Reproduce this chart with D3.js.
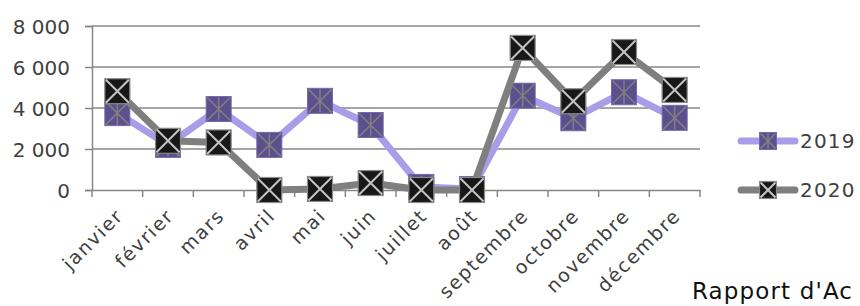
<!DOCTYPE html>
<html><head><meta charset="utf-8">
<script src="https://cdn.jsdelivr.net/npm/d3@7"></script>
<style>
body{margin:0;background:#fff;overflow:hidden}
svg{display:block;font-family:"DejaVu Sans",sans-serif}
</style></head><body>
<svg id="c" width="860" height="306"></svg>
<script>
const months = ["janvier","février","mars","avril","mai","juin","juillet","août","septembre","octobre","novembre","décembre"];
const values2019 = [3750,2200,3950,2200,4350,3170,150,50,4600,3500,4770,3520];
const values2020 = [4820,2400,2320,0,50,340,0,0,6930,4330,6730,4880];
const seriesNames = ["2019","2020"];
const yTicks = [0,2000,4000,6000,8000];

(function(){
const svg = d3.select("#c");
const mLeft = 92, mRight = 700, mTop = 26, mBottom = 190;
const x = d3.scaleBand().domain(months).range([mLeft,mRight]).padding(0);
const y = d3.scaleLinear().domain([0,8000]).range([mBottom,mTop]);
const grid = "#878787", txt = "#404040";
const fmt = v => d3.format(",")(v).replace(/,/g," ");

svg.append("g").selectAll("line").data(yTicks.slice(1)).join("line")
  .attr("x1",mLeft).attr("x2",mRight).attr("y1",d=>y(d)).attr("y2",d=>y(d))
  .attr("stroke",grid).attr("stroke-width",1.5);

const ya = svg.append("g").attr("transform",`translate(${mLeft},0)`)
  .call(d3.axisLeft(y).tickValues(yTicks).tickFormat(fmt).tickSize(7).tickPadding(15));
ya.select(".domain").attr("stroke",grid).attr("stroke-width",1.5);
ya.selectAll(".tick line").attr("stroke",grid).attr("stroke-width",1.5);
ya.selectAll("text").attr("fill",txt).attr("font-size",20).attr("font-family","DejaVu Sans").attr("dy","0.36em");

const xa = svg.append("g").attr("transform",`translate(0,${mBottom})`)
  .call(d3.axisBottom(x).tickSize(0).tickFormat(""));
xa.select(".domain").attr("stroke",grid).attr("stroke-width",1.5);
const tickPos = d3.range(months.length+1).map(i => mLeft + i*x.step());
svg.append("g").selectAll("line").data(tickPos).join("line")
  .attr("x1",d=>d).attr("x2",d=>d).attr("y1",mBottom).attr("y2",mBottom+7)
  .attr("stroke",grid).attr("stroke-width",1.5);
svg.append("g").selectAll("text").data(months).join("text")
  .attr("transform",d=>`translate(${x(d)+x.bandwidth()/2+7},${mBottom+27}) rotate(-45)`)
  .attr("text-anchor","end").attr("fill",txt).attr("font-size",19)
  .attr("letter-spacing",1.6)
  .text(d=>d);

const line = d3.line().x((d,i)=>x(months[i])+x.bandwidth()/2).y(d=>y(d));
const cx = i => x(months[i])+x.bandwidth()/2;

function marker2019(g, s){
  const h=s/2;
  g.append("rect").attr("x",-h).attr("y",-h).attr("width",s).attr("height",s)
    .attr("fill","#5b4f8e").attr("stroke","#7468ad").attr("stroke-width",1);
  const p = `M${-h+1},${-h+1}L${h-1},${h-1}M${h-1},${-h+1}L${-h+1},${h-1}M0,${-h+1}L0,${h-1}`;
  g.append("path").attr("d",p).attr("stroke","#7f7f7f").attr("stroke-width",1.6).attr("fill","none");
}
function marker2020(g, s){
  const h=s/2;
  g.append("rect").attr("x",-h).attr("y",-h).attr("width",s).attr("height",s)
    .attr("fill","#181818").attr("stroke","#8a8a8a").attr("stroke-width",1.2);
  const p = `M${-h+1},${-h+1}L${h-1},${h-1}M${h-1},${-h+1}L${-h+1},${h-1}`;
  g.append("path").attr("d",p).attr("stroke","#c4c4c4").attr("stroke-width",2).attr("fill","none");
}

const series = [
  {name:seriesNames[0], vals:values2019, color:"#a99ce8", mk:marker2019},
  {name:seriesNames[1], vals:values2020, color:"#7f7f7f", mk:marker2020}
];
series.forEach(s=>{
  const g = svg.append("g");
  g.append("path").attr("d",line(s.vals)).attr("fill","none").attr("stroke",s.color)
    .attr("stroke-width",7).attr("stroke-linejoin","round");
  s.vals.forEach((v,i)=>{
    const m = g.append("g").attr("transform",`translate(${cx(i)},${y(v)})`);
    s.mk(m,25);
  });
});

const legY = [141,190];
series.forEach((s,i)=>{
  const g = svg.append("g").attr("transform",`translate(0,${legY[i]})`);
  g.append("line").attr("x1",741).attr("x2",795).attr("y1",0).attr("y2",0)
    .attr("stroke",s.color).attr("stroke-width",7).attr("stroke-linecap","round");
  const m = g.append("g").attr("transform","translate(768,0)");
  s.mk(m,17);
  g.append("text").attr("x",800).attr("y",0).attr("dy","0.36em").attr("fill",txt)
    .attr("font-size",20).attr("letter-spacing",1.2).text(s.name);
});

svg.append("text").attr("x",692).attr("y",299).attr("fill","#111").attr("font-size",23)
  .attr("textLength",160).attr("lengthAdjust","spacing")
  .text("Rapport d'Ac");
})();
</script></body></html>
